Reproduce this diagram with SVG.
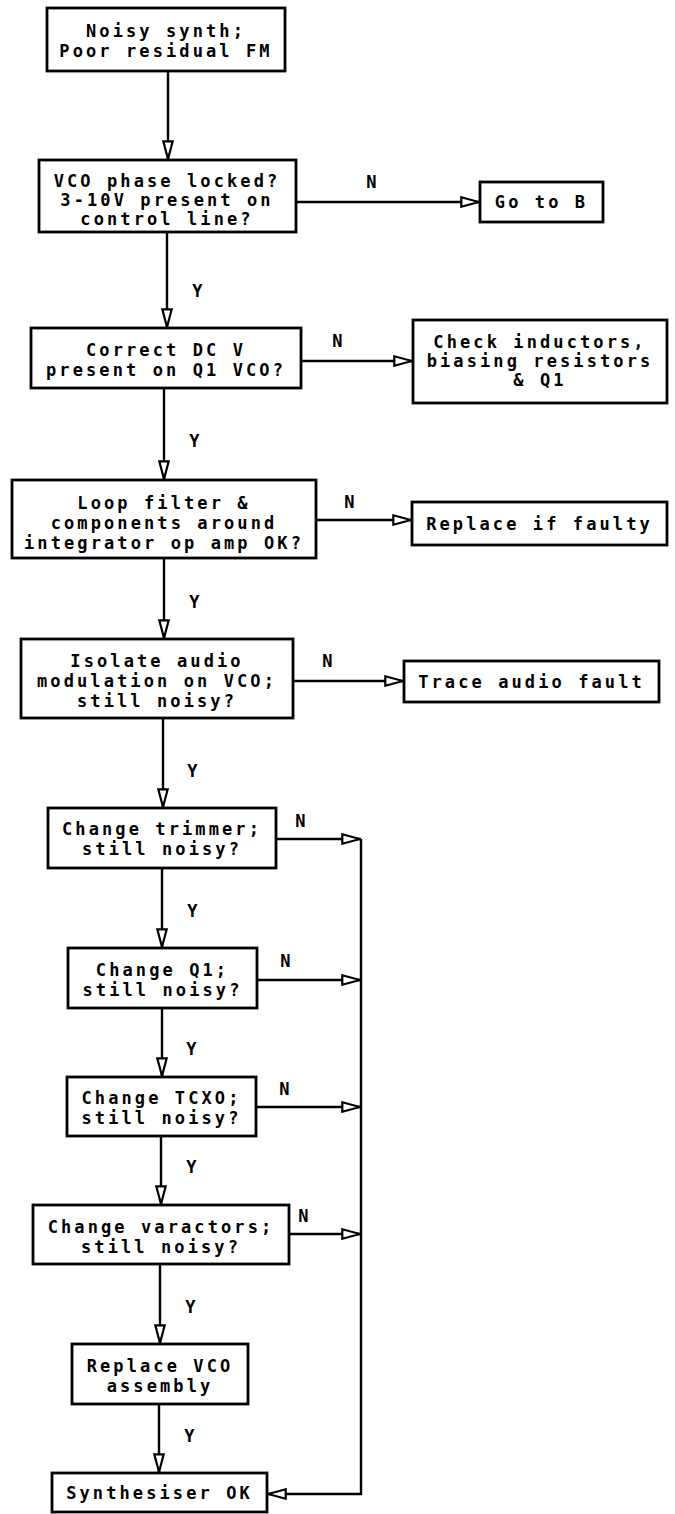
<svg xmlns="http://www.w3.org/2000/svg" width="675" height="1514" viewBox="0 0 675 1514">
<defs>
<style>
.box{fill:#fff;stroke:#000;stroke-width:2.8}
.t{font-family:"DejaVu Sans Mono","Liberation Mono",monospace;font-weight:bold;font-size:17px;letter-spacing:3.1px;text-anchor:middle;fill:#000}
.c{fill:none;stroke:#000;stroke-width:2.4}
</style>
<marker id="ah" viewBox="0 0 20 12" refX="20" refY="6" markerWidth="20" markerHeight="12" markerUnits="userSpaceOnUse" orient="auto">
<path d="M1.3,1.3 L19,6 L1.3,10.7 Z" fill="#fff" stroke="#000" stroke-width="2.2"/>
</marker>
</defs>
<rect width="675" height="1514" fill="#fff"/>
<g id="connectors" class="c" marker-end="url(#ah)">
<path d="M168,71 V160"/>
<path d="M167,232 V328"/>
<path d="M164,388 V480"/>
<path d="M164,558 V639"/>
<path d="M163,718 V808"/>
<path d="M162,868 V948"/>
<path d="M162,1008 V1077"/>
<path d="M161,1136 V1205"/>
<path d="M160,1264 V1344"/>
<path d="M159,1404 V1473"/>
<path d="M296,202 H480"/>
<path d="M301,361 H413"/>
<path d="M316,520 H412"/>
<path d="M293,681 H404"/>
<path d="M276,839 H361"/>
<path d="M257,980 H361"/>
<path d="M256,1107 H361"/>
<path d="M289,1234 H361"/>
<path d="M361,839 V1494 H267"/>
</g>
<g id="labels" class="t">
<text x="373" y="188">N</text>
<text x="339" y="347">N</text>
<text x="351" y="508">N</text>
<text x="329" y="667">N</text>
<text x="302" y="827">N</text>
<text x="287" y="967">N</text>
<text x="286" y="1095">N</text>
<text x="305" y="1222">N</text>
<text x="199" y="297">Y</text>
<text x="196" y="447">Y</text>
<text x="196" y="608">Y</text>
<text x="194" y="777">Y</text>
<text x="194" y="917">Y</text>
<text x="193" y="1055">Y</text>
<text x="193" y="1173">Y</text>
<text x="192" y="1313">Y</text>
<text x="191" y="1442">Y</text>
</g>
<g id="n1"><rect class="box" x="47" y="8" width="238" height="63"/><text class="t" x="166" y="37">Noisy synth;</text><text class="t" x="166" y="57">Poor residual FM</text></g>
<g id="n2"><rect class="box" x="39" y="160" width="257" height="72"/><text class="t" x="167" y="187">VCO phase locked?</text><text class="t" x="167" y="206">3-10V present on</text><text class="t" x="167" y="225">control line?</text></g>
<g id="gotoB"><rect class="box" x="480" y="182" width="123" height="40"/><text class="t" x="541.5" y="208">Go to B</text></g>
<g id="n3"><rect class="box" x="31" y="328" width="270" height="60"/><text class="t" x="166" y="356">Correct DC V</text><text class="t" x="166" y="376">present on Q1 VCO?</text></g>
<g id="check"><rect class="box" x="413" y="320" width="254" height="83"/><text class="t" x="540" y="348">Check inductors,</text><text class="t" x="540" y="367">biasing resistors</text><text class="t" x="540" y="386">&amp; Q1</text></g>
<g id="n4"><rect class="box" x="12" y="480" width="304" height="78"/><text class="t" x="164" y="509">Loop filter &amp;</text><text class="t" x="164" y="529">components around</text><text class="t" x="164" y="549">integrator op amp OK?</text></g>
<g id="replace"><rect class="box" x="412" y="502" width="255" height="43"/><text class="t" x="539.5" y="530">Replace if faulty</text></g>
<g id="n5"><rect class="box" x="21" y="639" width="272" height="79"/><text class="t" x="157" y="667">Isolate audio</text><text class="t" x="157" y="687">modulation on VCO;</text><text class="t" x="157" y="707">still noisy?</text></g>
<g id="trace"><rect class="box" x="404" y="661" width="255" height="41"/><text class="t" x="531.5" y="688">Trace audio fault</text></g>
<g id="n6"><rect class="box" x="48" y="808" width="228" height="60"/><text class="t" x="162" y="835">Change trimmer;</text><text class="t" x="162" y="855">still noisy?</text></g>
<g id="n7"><rect class="box" x="68" y="948" width="189" height="60"/><text class="t" x="162.5" y="976">Change Q1;</text><text class="t" x="162.5" y="996">still noisy?</text></g>
<g id="n8"><rect class="box" x="67" y="1077" width="189" height="59"/><text class="t" x="161.5" y="1104">Change TCXO;</text><text class="t" x="161.5" y="1124">still noisy?</text></g>
<g id="n9"><rect class="box" x="33" y="1205" width="256" height="59"/><text class="t" x="161" y="1233">Change varactors;</text><text class="t" x="161" y="1253">still noisy?</text></g>
<g id="n10"><rect class="box" x="72" y="1344" width="176" height="60"/><text class="t" x="160" y="1372">Replace VCO</text><text class="t" x="160" y="1392">assembly</text></g>
<g id="n11"><rect class="box" x="52" y="1473" width="215" height="39"/><text class="t" x="159.5" y="1499">Synthesiser OK</text></g>
</svg>
